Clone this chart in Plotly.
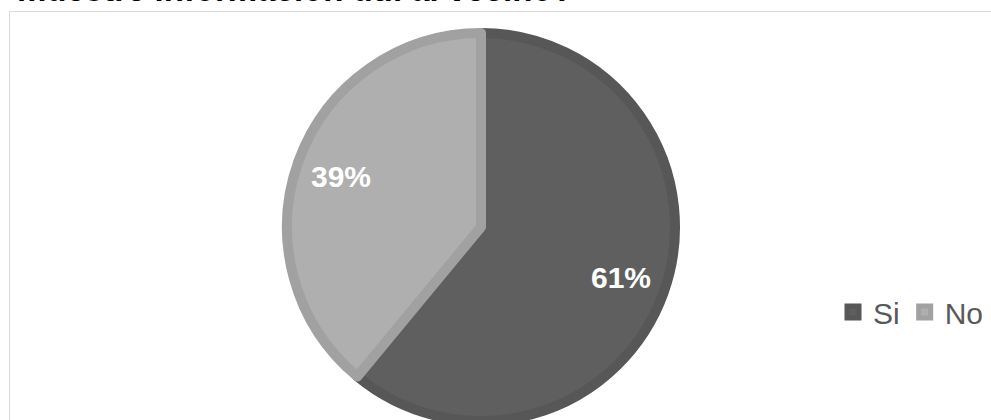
import math
import plotly.graph_objects as go

# Survey answers and their shares (percent)
labels = ["Si", "No"]
shares = [61, 39]

fill_colors = ["#5f5f5f", "#afafaf"]
edge_colors = ["#575757", "#a1a1a1"]

title_text = "muestre información útil al vecino?"

W, H = 991, 460
font_family = "Liberation Sans, Arial, sans-serif"

# Pie geometry in pixels -> paper fractions
cx, cy, r, edge_w = 481, 227, 194, 10
label_radius = 0.75 * (r + edge_w / 2)

fig = go.Figure(
    go.Pie(
        labels=labels,
        values=shares,
        sort=False,
        direction="clockwise",
        rotation=0,
        marker=dict(colors=fill_colors, line=dict(color=edge_colors, width=edge_w)),
        textinfo="none",
        domain=dict(
            x=[(cx - r) / W, (cx + r) / W],
            y=[(H - cy - r) / H, (H - cy + r) / H],
        ),
        hoverinfo="label+percent",
    )
)

# Percent labels placed along each slice's mid-angle
total = sum(shares)
annotations = []
start = 0.0
for lab, val in zip(labels, shares):
    frac = val / total
    mid = 2 * math.pi * (start + frac / 2)
    start += frac
    px = cx + label_radius * math.sin(mid)
    py = cy - label_radius * math.cos(mid)
    annotations.append(
        dict(
            text=f"{round(frac * 100)}%",
            xref="paper",
            yref="paper",
            x=px / W,
            y=(H - py) / H,
            xanchor="center",
            yanchor="middle",
            showarrow=False,
            font=dict(family=font_family, size=30, color="white", weight="bold"),
        )
    )

annotations.append(
    dict(
        text=title_text,
        xref="paper",
        yref="paper",
        x=15 / W,
        xanchor="left",
        y=1,
        yanchor="bottom",
        yshift=-10,
        showarrow=False,
        font=dict(family=font_family, size=33, color="black", weight="bold"),
    )
)

fig.update_layout(
    width=W,
    height=H,
    margin=dict(l=0, r=0, t=0, b=0),
    paper_bgcolor="white",
    plot_bgcolor="white",
    showlegend=True,
    legend=dict(
        orientation="h",
        x=833 / W,
        xanchor="left",
        y=(H - 312) / H,
        yanchor="middle",
        font=dict(family=font_family, size=30, color="#595959"),
        itemclick=False,
        itemdoubleclick=False,
    ),
    shapes=[
        dict(
            type="rect",
            xref="paper",
            yref="paper",
            x0=9.5 / W,
            x1=1.05,
            y0=-0.1,
            y1=(H - 11.5) / H,
            line=dict(color="#d9d9d9", width=1),
            fillcolor="rgba(0,0,0,0)",
            layer="below",
        )
    ],
    annotations=annotations,
)

fig.write_html(
    "out.html",
    post_script="document.body.style.margin='0';document.body.style.overflow='hidden';",
)
